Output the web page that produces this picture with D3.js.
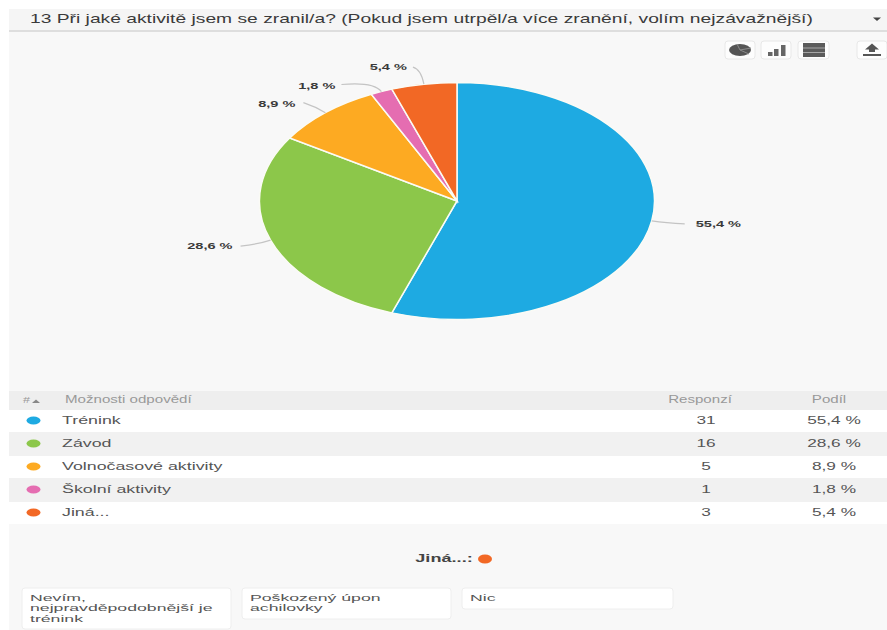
<!DOCTYPE html>
<html>
<head>
<meta charset="utf-8">
<script src="https://cdn.jsdelivr.net/npm/d3@7"></script>
<style>
html,body{margin:0;padding:0;background:#fff}
svg{display:block}
text{font-family:"Liberation Sans",Arial,sans-serif}
</style>
</head>
<body>
<svg id="chart" width="887" height="630"></svg>
<script>
const questionTitle = "13 Při jaké aktivitě jsem se zranil/a? (Pokud jsem utrpěl/a více zranění, volím nejzávažnější)";
const categories = ["Trénink", "Závod", "Volnočasové aktivity", "Školní aktivity", "Jiná..."];
const responses = [31, 16, 5, 1, 3];
const sharesPct = [55.4, 28.6, 8.9, 1.8, 5.4];
const sliceColors = ["#1eaae2", "#8cc74a", "#fdaa22", "#e56db1", "#f26825"];
const tableHeaders = ["Možnosti odpovědí", "Responzí", "Podíl"];
const otherTitle = "Jiná...:";
const otherAnswers = [
  ["Nevím,", "nejpravděpodobnější je", "trénink"],
  ["Poškozený úpon", "achilovky"],
  ["Nic"]
];

const svg = d3.select("#chart");

// Horizontally stretched text, the whole panel is rendered wider than tall.
function label(parent, x, y, str, o = {}) {
  const sx = o.sx || 1.4;
  return parent.append("text")
    .attr("transform", `translate(${x},${y}) scale(${sx},1)`)
    .attr("text-anchor", o.anchor || "start")
    .attr("font-size", o.size || 12)
    .attr("font-weight", o.weight || null)
    .attr("fill", o.fill || "#555")
    .text(str);
}

// Panel and question header
svg.append("rect").attr("x", 9).attr("y", 30).attr("width", 878).attr("height", 600).attr("fill", "#f8f8f8");
svg.append("rect").attr("x", 9).attr("y", 9).attr("width", 878).attr("height", 21).attr("fill", "#f5f5f5");
svg.append("rect").attr("x", 9).attr("y", 30).attr("width", 878).attr("height", 2).attr("fill", "#dedede");
label(svg, 30, 23, questionTitle, {size: 12, sx: 1.605, fill: "#3a3a3a"});
svg.append("path").attr("d", "M873,17.5h8l-4,3.5z").attr("fill", "#444");

// Toolbar buttons
const toolbar = svg.append("g");
[[725, 30], [761, 30], [798, 31], [857, 30]].forEach(([x, w]) => {
  toolbar.append("rect").attr("x", x).attr("y", 41).attr("width", w).attr("height", 18).attr("rx", 3)
    .attr("fill", "#fdfdfd").attr("stroke", "#e8e8e8");
});
toolbar.append("ellipse").attr("cx", 740).attr("cy", 50).attr("rx", 11).attr("ry", 6).attr("fill", "#555");
toolbar.append("path").attr("d", "M740,50 L751,48 M740,50 L749,54 M740,50 L737,44")
  .attr("stroke", "#8a8a8a").attr("stroke-width", 1).attr("fill", "none");
[[768, 52, 4], [774, 49, 7], [781, 45, 11]].forEach(([x, y, h]) => {
  toolbar.append("rect").attr("x", x).attr("y", y).attr("width", 4.5).attr("height", h).attr("fill", "#666");
});
toolbar.append("rect").attr("x", 803).attr("y", 43).attr("width", 22).attr("height", 14).attr("fill", "#5a5a5a");
[47.5, 52].forEach(y => {
  toolbar.append("rect").attr("x", 803).attr("y", y).attr("width", 22).attr("height", 1).attr("fill", "#a5a5a5");
});
toolbar.append("path").attr("d", "M872,43.5 L879,49.5 H875 V52 H869 V49.5 H865z M863,54 H881 V56 H863z").attr("fill", "#555");

// Pie: drawn on a unit radius, then stretched into the panel's ellipse
const cx = 457, cy = 201, rx = 197.5, ry = 118.5;
const pie = d3.pie().sort(null).value(d => d)(responses);
const arc = d3.arc().innerRadius(0).outerRadius(1);
const pieGroup = svg.append("g").attr("transform", `translate(${cx},${cy}) scale(${rx},${ry})`);
pieGroup.selectAll("path").data(pie).join("path")
  .attr("d", arc)
  .attr("fill", (d, i) => sliceColors[i])
  .attr("stroke", "#fbfbf5")
  .attr("stroke-width", 1.5)
  .attr("vector-effect", "non-scaling-stroke");

// Leader lines start on the rim at each slice's mid-angle
const leaderRoutes = [
  {elbow: [14, 2], end: [33, 3], text: [44, 6], anchor: "start"},
  {elbow: [-12, 4], end: [-30, 6], text: [-38, 9], anchor: "end"},
  {elbow: [-10, -6], end: [-22, -10], text: [-30, -6], anchor: "end"},
  {elbow: [-8, -10], end: [-40, -7], text: [-46, -3], anchor: "end"},
  {elbow: [-3, -15], end: [-11, -17], text: [-17, -14], anchor: "end"}
];
const fmtShare = v => d3.format(".1f")(v).replace(".", ",") + " %";
pie.forEach((d, i) => {
  const mid = (d.startAngle + d.endAngle) / 2;
  const px = cx + rx * Math.sin(mid), py = cy - ry * Math.cos(mid);
  const r = leaderRoutes[i];
  svg.append("path")
    .attr("d", `M${px},${py} Q${px + r.elbow[0]},${py + r.elbow[1]} ${px + r.end[0]},${py + r.end[1]}`)
    .attr("fill", "none").attr("stroke", "#c4c4c4").attr("stroke-width", 1.2);
  label(svg, px + r.text[0], py + r.text[1], fmtShare(sharesPct[i]),
    {size: 9, sx: 1.62, fill: "#3a3a3a", anchor: r.anchor, weight: "bold"});
});

// Answer table
const bands = [[410, 22], [432, 24], [456, 22], [478, 24], [502, 22]];
svg.append("rect").attr("x", 9).attr("y", 391).attr("width", 878).attr("height", 19).attr("fill", "#eeeeee");
label(svg, 23, 403, "#", {size: 9, sx: 1.4, fill: "#999"});
svg.append("path").attr("d", "M32,403 l4,-3.5 l4,3.5z").attr("fill", "#888");
label(svg, 65, 403, tableHeaders[0], {size: 10, sx: 1.51, fill: "#999"});
label(svg, 700, 403, tableHeaders[1], {size: 10, sx: 1.51, fill: "#999", anchor: "middle"});
label(svg, 829, 403, tableHeaders[2], {size: 10, sx: 1.51, fill: "#999", anchor: "middle"});

categories.forEach((c, i) => {
  const [y, h] = bands[i];
  const mid = y + h / 2;
  svg.append("rect").attr("x", 9).attr("y", y).attr("width", 878).attr("height", h)
    .attr("fill", i % 2 ? "#f1f1f1" : "#ffffff");
  svg.append("ellipse").attr("cx", 33.5).attr("cy", mid - 0.5).attr("rx", 7).attr("ry", 4).attr("fill", sliceColors[i]);
  label(svg, 62, mid + 3, c, {size: 11.5, sx: 1.55, fill: "#555"});
  label(svg, 706, mid + 3, String(responses[i]), {size: 11.5, sx: 1.5, fill: "#555", anchor: "middle"});
  label(svg, 834, mid + 3, fmtShare(sharesPct[i]), {size: 11.5, sx: 1.5, fill: "#555", anchor: "middle"});
});

// Free-text answers given under "Jiná..."
label(svg, 444, 562, otherTitle, {size: 11, sx: 1.65, fill: "#444", anchor: "middle", weight: "bold"});
svg.append("ellipse").attr("cx", 485).attr("cy", 559).attr("rx", 7).attr("ry", 4.5).attr("fill", sliceColors[4]);

const cards = [[22, 588, 209, 41], [242, 588, 209, 31], [462, 588, 211, 21]];
otherAnswers.forEach((lines, i) => {
  const [x, y, w, h] = cards[i];
  svg.append("rect").attr("x", x).attr("y", y).attr("width", w).attr("height", h).attr("rx", 3)
    .attr("fill", "#fff").attr("stroke", "#eeeeee");
  lines.forEach((t, j) => {
    label(svg, x + 8, y + 12.5 + j * 10.8, t, {size: 9.4, sx: 1.88, fill: "#555"});
  });
});
</script>
</body>
</html>
